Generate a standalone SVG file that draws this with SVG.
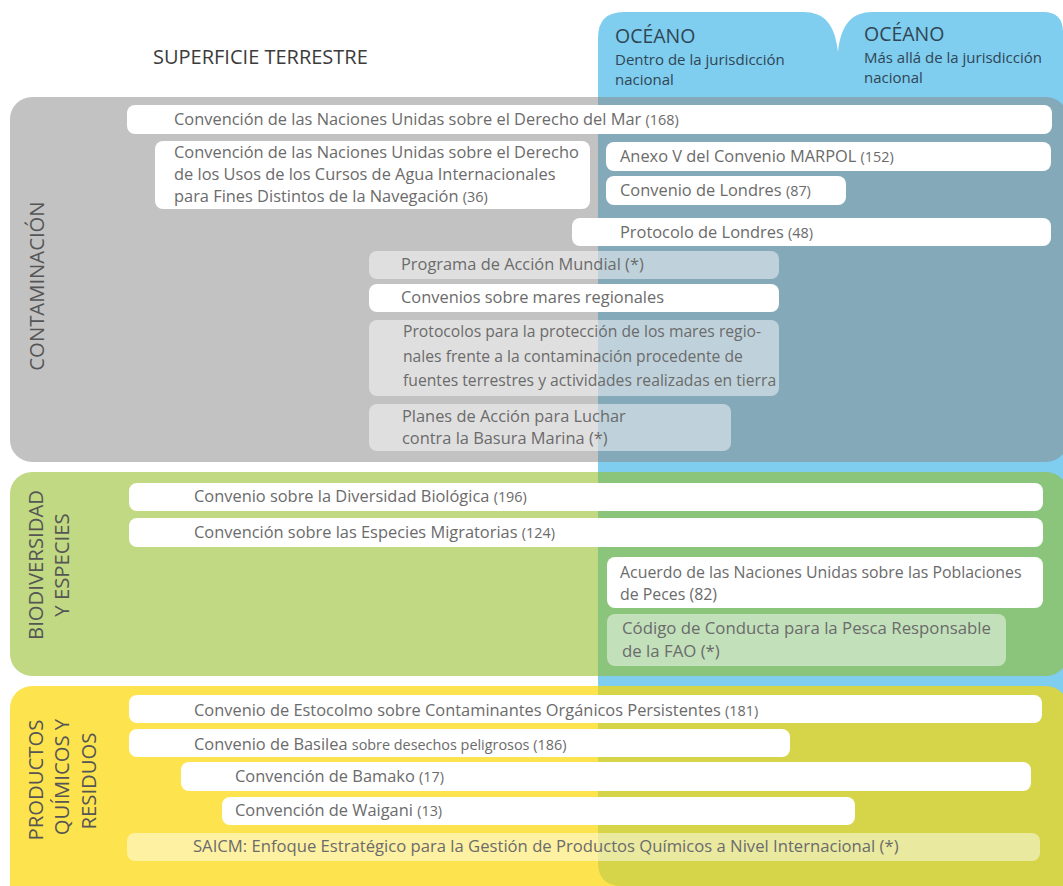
<svg xmlns="http://www.w3.org/2000/svg" width="1063" height="886" viewBox="0 0 1063 886">
<style>
.t{font-family:"Open Sans","Liberation Sans",sans-serif;font-size:16.4px;fill:#6b6b6b}
.n{font-size:14.4px}
.h{font-family:"Open Sans","Liberation Sans",sans-serif;fill:#3b3b3b}
.v{font-family:"Open Sans","Liberation Sans",sans-serif;fill:#555555;font-size:20.3px}
.o{font-family:"Open Sans","Liberation Sans",sans-serif;fill:#2f4654}
.w{fill:#ffffff}
.s{fill:#ffffff;fill-opacity:0.48}
</style>
<rect width="1063" height="886" fill="#ffffff"/>
<g id="ocean">
<path d="M598,38 Q598,12 624,12 L803,12 C825,12 835,25 838,52 C841,25 851,12 873,12 L1043,12 Q1063,12 1063,32 L1063,886 L622,886 Q598,886 598,862 Z" fill="#7fcdef"/>
<text class="o" x="615" y="43" font-size="19.5">OCÉANO</text>
<text class="o" x="615" y="65" font-size="15">Dentro de la jurisdicción</text>
<text class="o" x="615" y="85" font-size="15">nacional</text>
<text class="o" x="864" y="41" font-size="19.5">OCÉANO</text>
<text class="o" x="864" y="63" font-size="15">Más allá de la jurisdicción</text>
<text class="o" x="864" y="83" font-size="15">nacional</text>
</g>
<g id="land-header">
<text class="h" x="153" y="64" font-size="20">SUPERFICIE TERRESTRE</text>
</g>
<g id="band-contaminacion">
<rect x="10" y="97" width="1058" height="365" rx="22" fill="#898989" fill-opacity="0.516"/>
<text class="v" text-anchor="middle" transform="translate(44,286) rotate(-90)">CONTAMINACIÓN</text>
</g>
<g id="band-biodiversidad">
<rect x="10" y="472" width="1058" height="204" rx="22" fill="#93be29" fill-opacity="0.586"/>
<text class="v" text-anchor="middle" transform="translate(43,565) rotate(-90)">BIODIVERSIDAD</text>
<text class="v" text-anchor="middle" transform="translate(69,565) rotate(-90)">Y ESPECIES</text>
</g>
<g id="band-productos">
<rect x="10" y="686" width="1058" height="225" rx="22" fill="#fcd800" fill-opacity="0.695"/>
<text class="v" text-anchor="middle" transform="translate(43,780) rotate(-90)">PRODUCTOS</text>
<text class="v" text-anchor="middle" transform="translate(69,777) rotate(-90)">QUÍMICOS Y</text>
<text class="v" text-anchor="middle" transform="translate(96,781) rotate(-90)">RESIDUOS</text>
</g>
<g id="connectors"/>
<g id="n-convemar">
<rect class="w" x="127" y="105" width="925" height="29" rx="8"/>
<text class="t" x="174" y="125">Convención de las Naciones Unidas sobre el Derecho del Mar <tspan class="n">(168)</tspan></text>
</g>
<g id="n-cursos-agua">
<rect class="w" x="155" y="141" width="435" height="68" rx="8"/>
<text class="t" x="174" y="158">Convención de las Naciones Unidas sobre el Derecho</text>
<text class="t" x="174" y="180">de los Usos de los Cursos de Agua Internacionales</text>
<text class="t" x="174" y="202">para Fines Distintos de la Navegación <tspan class="n">(36)</tspan></text>
</g>
<g id="n-marpol">
<rect class="w" x="606" y="142" width="445" height="29" rx="8"/>
<text class="t" x="620" y="162">Anexo V del Convenio MARPOL <tspan class="n">(152)</tspan></text>
</g>
<g id="n-londres">
<rect class="w" x="606" y="176" width="240" height="29" rx="8"/>
<text class="t" x="620" y="196">Convenio de Londres <tspan class="n">(87)</tspan></text>
</g>
<g id="n-protocolo-londres">
<rect class="w" x="572" y="218" width="479" height="28" rx="8"/>
<text class="t" x="620" y="238">Protocolo de Londres <tspan class="n">(48)</tspan></text>
</g>
<g id="n-pam">
<rect class="s" x="369" y="251" width="410" height="28" rx="8"/>
<text class="t" x="401" y="270">Programa de Acción Mundial (*)</text>
</g>
<g id="n-mares-regionales">
<rect class="w" x="369" y="284" width="410" height="28" rx="8"/>
<text class="t" x="401" y="303">Convenios sobre mares regionales</text>
</g>
<g id="n-protocolos">
<rect class="s" x="369" y="320" width="410" height="76" rx="8"/>
<text class="t" x="403" y="337" style="font-size:15.7px">Protocolos para la protección de los mares regio-</text>
<text class="t" x="403" y="362" style="font-size:15.7px">nales frente a la contaminación procedente de</text>
<text class="t" x="403" y="386" style="font-size:15.7px">fuentes terrestres y actividades realizadas en tierra</text>
</g>
<g id="n-basura">
<rect class="s" x="369" y="404" width="362" height="47" rx="8"/>
<text class="t" x="402" y="422">Planes de Acción para Luchar</text>
<text class="t" x="402" y="444">contra la Basura Marina (*)</text>
</g>
<g id="n-cdb">
<rect class="w" x="129" y="483" width="914" height="28" rx="8"/>
<text class="t" x="194" y="502">Convenio sobre la Diversidad Biológica <tspan class="n">(196)</tspan></text>
</g>
<g id="n-cms">
<rect class="w" x="129" y="518" width="914" height="29" rx="8"/>
<text class="t" x="194" y="538">Convención sobre las Especies Migratorias <tspan class="n">(124)</tspan></text>
</g>
<g id="n-peces">
<rect class="w" x="607" y="557" width="436" height="51" rx="8"/>
<text class="t" x="620" y="578" style="font-size:15.9px">Acuerdo de las Naciones Unidas sobre las Poblaciones</text>
<text class="t" x="620" y="600" style="font-size:15.9px">de Peces (82)</text>
</g>
<g id="n-fao">
<rect class="s" x="607" y="614" width="399" height="52" rx="8"/>
<text class="t" x="622" y="634" style="font-size:16.8px">Código de Conducta para la Pesca Responsable</text>
<text class="t" x="622" y="657" style="font-size:16.8px">de la FAO (*)</text>
</g>
<g id="n-estocolmo">
<rect class="w" x="129" y="695" width="913" height="28" rx="8"/>
<text class="t" x="194" y="716">Convenio de Estocolmo sobre Contaminantes Orgánicos Persistentes <tspan class="n">(181)</tspan></text>
</g>
<g id="n-basilea">
<rect class="w" x="129" y="729" width="661" height="28" rx="8"/>
<text class="t" x="194" y="750">Convenio de Basilea <tspan class="n">sobre desechos peligrosos  (186)</tspan></text>
</g>
<g id="n-bamako">
<rect class="w" x="181" y="762" width="850" height="29" rx="8"/>
<text class="t" x="235" y="782">Convención de Bamako <tspan class="n">(17)</tspan></text>
</g>
<g id="n-waigani">
<rect class="w" x="222" y="797" width="633" height="28" rx="8"/>
<text class="t" x="235" y="816">Convención de Waigani <tspan class="n">(13)</tspan></text>
</g>
<g id="n-saicm">
<rect class="s" x="127" y="833" width="913" height="28" rx="8"/>
<text class="t" x="193" y="852" style="font-size:16.65px">SAICM: Enfoque Estratégico para la Gestión de Productos Químicos a Nivel Internacional (*)</text>
</g>
</svg>
